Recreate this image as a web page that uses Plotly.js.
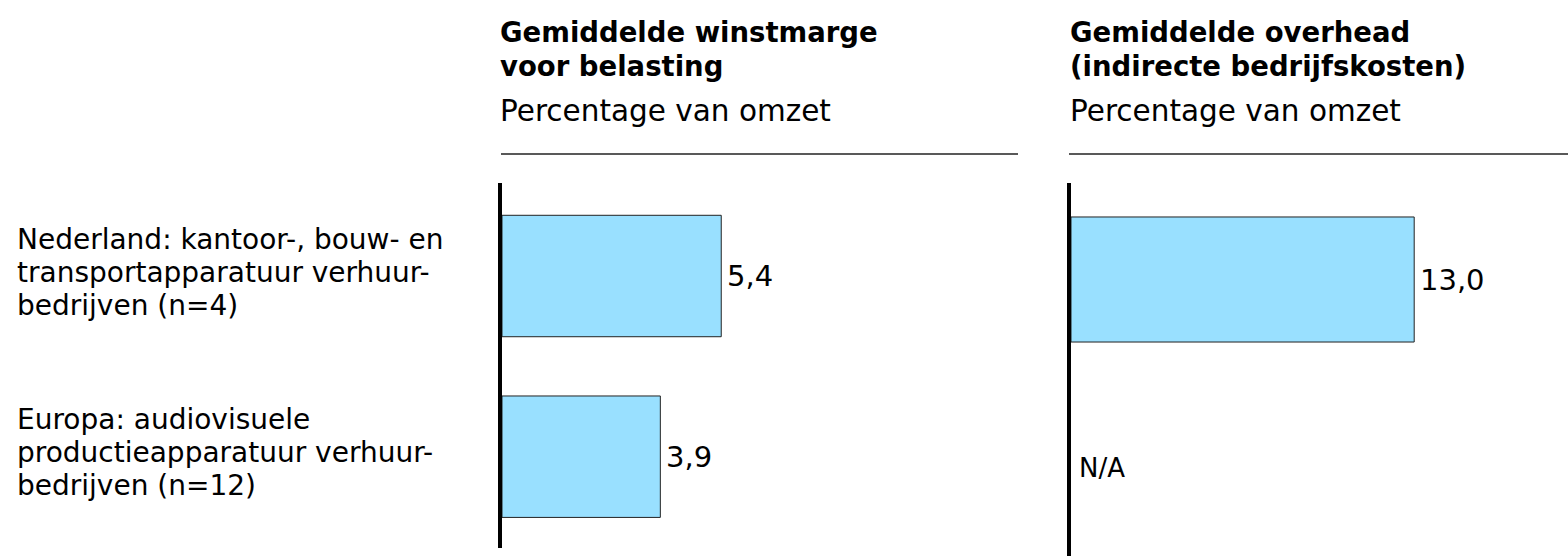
<!DOCTYPE html>
<html><head><meta charset="utf-8">
<script src="https://cdn.plot.ly/plotly-3.0.1.min.js"></script>
<style>html,body{margin:0;padding:0;background:#fff}</style>
</head><body><div id="chart" style="width:1568px;height:556px"></div>
<script>
// ---- data ----
const categories = ["Nederland", "Europa"];
const categoryLines = [
  ["Nederland: kantoor-, bouw- en", "transportapparatuur verhuur-", "bedrijven (n=4)"],
  ["Europa: audiovisuele", "productieapparatuur verhuur-", "bedrijven (n=12)"]
];
const winstmarge = [5.4, 3.9];
const overhead = [13.0, null];
const panelTitles = [
  ["Gemiddelde winstmarge", "voor belasting"],
  ["Gemiddelde overhead", "(indirecte bedrijfskosten)"]
];
const panelSubtitle = "Percentage van omzet";
const missingLabel = "N/A";

// ---- layout helpers ----
const W = 1568, H = 556;
const px = x => x / W;
const py = y => 1 - y / H;
const FONT = "DejaVu Sans, Liberation Sans, Arial, sans-serif";
const fmt = v => v.toFixed(1).replace(".", ",");

const barStyle = { color: "#99E0FF", line: { color: "#222", width: 1 } };

const traces = [
  { type: "bar", orientation: "h", x: winstmarge, y: categories, xaxis: "x", yaxis: "y",
    marker: barStyle, width: 0.672, hoverinfo: "skip" },
  { type: "bar", orientation: "h", x: overhead, y: categories, xaxis: "x2", yaxis: "y2",
    marker: barStyle, width: 0.692, hoverinfo: "skip" }
];

const hiddenX = { showgrid: false, zeroline: false, showticklabels: false, showline: false, ticks: "" };
const yBase = { type: "category", categoryorder: "array", categoryarray: categories,
  showgrid: false, zeroline: false, showticklabels: false, ticks: "",
  showline: true, linewidth: 4, linecolor: "#000" };

const annotations = [];
// panel titles
const titleX = [px(498), px(1068)];
panelTitles.forEach((lines, p) => {
  lines.forEach((t, j) => {
    annotations.push({ xref: "paper", yref: "paper", x: titleX[p], y: py(32 + 34 * j),
      xanchor: "left", yanchor: "middle", showarrow: false, text: "<b>" + t + "</b>",
      font: { family: FONT, size: 27.5, color: "#000" } });
  });
  annotations.push({ xref: "paper", yref: "paper", x: titleX[p], y: py(111),
    xanchor: "left", yanchor: "middle", showarrow: false, text: panelSubtitle,
    font: { family: FONT, size: 29.5, color: "#000" } });
});
// category labels
categoryLines.forEach((lines, i) => {
  lines.forEach((t, j) => {
    annotations.push({ xref: "paper", yref: "y", x: px(15), y: categories[i],
      xanchor: "left", yanchor: "middle", yshift: 33 * (1 - j) + 4, showarrow: false, text: t,
      font: { family: FONT, size: 28, color: "#000" } });
  });
});
// value labels
winstmarge.forEach((v, i) => {
  annotations.push({ xref: "x", yref: "y", x: v, y: categories[i], xanchor: "left", yanchor: "middle",
    xshift: 4, showarrow: false, text: fmt(v), font: { family: FONT, size: 29, color: "#000" } });
});
overhead.forEach((v, i) => {
  if (v === null) {
    annotations.push({ xref: "x2", yref: "y2", x: 0, y: categories[i], xanchor: "left", yanchor: "middle",
      xshift: 6, yshift: -8, showarrow: false, text: missingLabel,
      font: { family: FONT, size: 26, color: "#000" } });
  } else {
    annotations.push({ xref: "x2", yref: "y2", x: v, y: categories[i], xanchor: "left", yanchor: "middle",
      xshift: 4, showarrow: false, text: fmt(v), font: { family: FONT, size: 29, color: "#000" } });
  }
});

const layout = {
  width: W, height: H,
  margin: { l: 0, r: 0, t: 0, b: 0, pad: 0 },
  paper_bgcolor: "#fff", plot_bgcolor: "rgba(0,0,0,0)",
  showlegend: false,
  font: { family: FONT, color: "#000" },
  xaxis: Object.assign({}, hiddenX, { domain: [px(502), px(1018)], range: [0, 516 / 40.6], anchor: "y" }),
  yaxis: Object.assign({}, yBase, { domain: [py(548), py(183)], range: [1.5053, -0.5147], anchor: "x" }),
  xaxis2: Object.assign({}, hiddenX, { domain: [px(1071), 1], range: [0, 497 / 26.4], anchor: "y2" }),
  yaxis2: Object.assign({}, yBase, { domain: [0, py(183)], range: [1.530, -0.534], anchor: "x2" }),
  shapes: [
    { type: "line", xref: "paper", yref: "paper", x0: px(501), x1: px(1018), y0: py(154), y1: py(154),
      line: { color: "#222", width: 1.6 } },
    { type: "line", xref: "paper", yref: "paper", x0: px(1069), x1: 1, y0: py(154), y1: py(154),
      line: { color: "#222", width: 1.6 } }
  ],
  annotations: annotations
};

Plotly.newPlot("chart", traces, layout, { staticPlot: true, displayModeBar: false });
</script>
</body></html>
